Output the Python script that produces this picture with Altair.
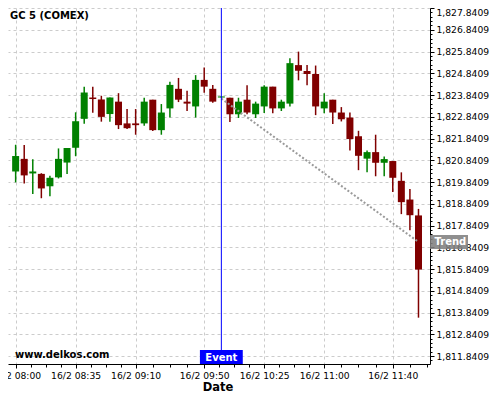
import json
import altair as alt
import pandas as pd

# ---------------- data ----------------
times = ["08:00", "08:05", "08:10", "08:15", "08:20", "08:25", "08:30", "08:35",
         "08:40", "08:45", "08:50", "08:55", "09:00", "09:05", "09:10", "09:15",
         "09:20", "09:25", "09:30", "09:35", "09:40", "09:45", "09:50", "09:55",
         "10:00", "10:05", "10:10", "10:15", "10:20", "10:25", "10:30", "10:35",
         "10:40", "10:45", "10:50", "10:55", "11:00", "11:05", "11:10", "11:15",
         "11:20", "11:25", "11:30", "11:35", "11:40", "11:45", "11:50", "11:55"]
opens = [1820.33, 1820.91, 1820.24, 1820.22, 1819.65, 1820.06, 1820.74, 1821.42,
         1822.75, 1823.73, 1823.64, 1822.97, 1823.54, 1822.54, 1822.54, 1822.54,
         1823.63, 1822.23, 1823.23, 1824.13, 1823.54, 1823.32, 1824.54, 1824.13,
         1823.73, 1823.72, 1822.96, 1823.63, 1822.96, 1823.32, 1824.23, 1823.23,
         1823.45, 1825.22, 1824.95, 1824.81, 1823.23, 1823.63, 1823.04, 1822.81,
         1821.95, 1820.92, 1821.22, 1820.73, 1820.81, 1819.90, 1819.04, 1818.31]
highs = [1821.56, 1821.55, 1820.89, 1820.25, 1820.13, 1821.39, 1821.41, 1823.05,
         1824.22, 1824.22, 1823.81, 1823.73, 1823.93, 1823.20, 1823.20, 1823.72,
         1823.63, 1823.43, 1824.45, 1824.63, 1824.04, 1824.76, 1825.11, 1824.31,
         1823.78, 1823.72, 1823.72, 1824.29, 1823.54, 1824.29, 1824.23, 1823.63,
         1825.54, 1825.84, 1825.22, 1825.20, 1823.93, 1823.63, 1823.29, 1823.04,
         1822.20, 1821.29, 1822.02, 1821.02, 1820.81, 1820.29, 1819.52, 1818.61]
lows = [1819.83, 1819.78, 1819.30, 1819.10, 1819.19, 1820.01, 1820.21, 1821.03,
        1822.52, 1823.03, 1822.62, 1822.62, 1822.28, 1822.28, 1822.02, 1822.43,
        1822.19, 1822.02, 1822.81, 1823.52, 1823.11, 1822.81, 1823.95, 1823.49,
        1823.73, 1822.61, 1822.79, 1822.96, 1822.79, 1823.02, 1823.01, 1823.11,
        1823.32, 1824.52, 1824.29, 1822.92, 1823.01, 1822.51, 1822.63, 1821.29,
        1820.39, 1820.29, 1820.11, 1820.11, 1819.39, 1818.37, 1817.63, 1813.61]
closes = [1821.04, 1820.15, 1820.33, 1819.55, 1820.04, 1820.91, 1821.41, 1822.64,
          1823.96, 1823.66, 1822.84, 1823.73, 1822.46, 1822.32, 1822.46, 1823.54,
          1822.23, 1823.04, 1824.31, 1823.63, 1823.45, 1824.54, 1824.23, 1823.54,
          1823.78, 1822.96, 1823.54, 1823.04, 1823.45, 1824.23, 1823.23, 1823.54,
          1825.31, 1824.96, 1824.81, 1823.32, 1823.54, 1823.04, 1822.73, 1821.82,
          1821.05, 1821.22, 1820.73, 1820.90, 1820.04, 1818.92, 1818.32, 1815.82]

event_time = ["10:00"]
event_label = ["Event"]
trend_times = ["10:00", "11:55"]
trend_values = [1823.68, 1817.09]
trend_label = ["Trend"]
title_text = ["GC 5 (COMEX)"]
watermark_text = ["www.delkos.com"]
x_title = ["Date"]

y_ticks = [1811.8409, 1812.8409, 1813.8409, 1814.8409, 1815.8409, 1816.8409,
           1817.8409, 1818.8409, 1819.8409, 1820.8409, 1821.8409, 1822.8409,
           1823.8409, 1824.8409, 1825.8409, 1826.8409, 1827.8409]
x_tick_times = ["08:00", "08:35", "09:10", "09:50", "10:25", "11:00", "11:40"]
x_tick_labels = ["16/2 08:00", "16/2 08:35", "16/2 09:10", "16/2 09:50",
                 "16/2 10:25", "16/2 11:00", "16/2 11:40"]


def to_min(t):
    h, m = t.split(":")
    return int(h) * 60 + int(m)


# ---------------- layout ----------------
W, H = 422, 356
FONT = "DejaVu Sans"
x_dom = [478.46, 718.8]
y_dom = [1811.48, 1827.845]

x_major = [to_min(t) for t in x_tick_times]
x_minor = [a + (b - a) * q / 4 for a, b in zip(x_major, x_major[1:]) for q in (1, 2, 3)]
x_minor += [x_major[-1] + (x_major[-1] - x_major[-2]) * q / 4 for q in (1, 2)]
x_values = sorted(x_major + x_minor)

y_minor = [round(v + 0.2 * q, 4) for v in y_ticks[:-1] for q in (1, 2, 3, 4)]
y_minor += [round(y_ticks[0] - 0.2, 4)]
y_values = sorted(y_ticks + y_minor)

xm = json.dumps(x_major)
xl = json.dumps(x_tick_labels)
ym = json.dumps(y_ticks)
x_is_major = f"indexof({xm}, datum.value) >= 0"
y_is_major = f"indexof({ym}, datum.value) >= 0"

df = pd.DataFrame({"time": times, "open": opens, "high": highs,
                   "low": lows, "close": closes})
df["minute"] = df["time"].map(to_min)

xscale = alt.Scale(domain=x_dom, nice=False, zero=False)
yscale = alt.Scale(domain=y_dom, nice=False, zero=False)

x_axis = alt.Axis(
    values=x_values, title=None, grid=True, labelOverlap=False, labelFlush=False,
    labelExpr=f"{x_is_major} ? {xl}[indexof({xm}, datum.value)] : ''",
    gridOpacity={"condition": {"test": x_is_major, "value": 1}, "value": 0},
    tickSize={"condition": {"test": x_is_major, "value": 4}, "value": 3},
    labelPadding=3,
)
y_axis = alt.Axis(
    orient="right", values=y_values, title=None, grid=True, labelOverlap=False,
    labelFlush=True,
    labelExpr=f"{y_is_major} ? format(datum.value, ',.4f') : ''",
    gridOpacity={"condition": {"test": y_is_major, "value": 1}, "value": 0},
    tickSize={"condition": {"test": y_is_major, "value": 4}, "value": 2},
    labelPadding=2,
)


def X(field):
    return alt.X(field, scale=xscale, axis=x_axis)


def Y(field):
    return alt.Y(field, scale=yscale, axis=y_axis)


candle_color = alt.condition("datum.close >= datum.open",
                             alt.value("#008000"), alt.value("#800000"))

base = alt.Chart(df)
wicks = base.mark_rule(strokeWidth=1.5).encode(
    x=X("minute:Q"), y=Y("low:Q"), y2="high:Q", color=candle_color)
bodies = base.mark_bar(size=7).encode(
    x=X("minute:Q"), y=Y("open:Q"), y2="close:Q", color=candle_color)

ev = pd.DataFrame({"time": event_time, "label": event_label})
ev["minute"] = ev["time"].map(to_min)
ev_rule = alt.Chart(ev).mark_rule(color="#0000ff", strokeWidth=1).encode(
    x=X("minute:Q"))
ev_box = alt.Chart(ev).transform_calculate(
    x1="datum.minute - 12.5", x2="datum.minute + 12.5"
).mark_rect(color="#0000ff").encode(
    x=X("x1:Q"), x2="x2:Q",
    y=alt.value(H - 14), y2=alt.value(H))
ev_text = alt.Chart(ev).mark_text(
    color="white", font=FONT, fontSize=10, fontWeight="bold",
    align="center", baseline="alphabetic").encode(
    x=X("minute:Q"), y=alt.value(H - 3), text="label:N")

tr = pd.DataFrame({"time": trend_times, "value": trend_values})
tr["minute"] = tr["time"].map(to_min)
trend = alt.Chart(tr).mark_line(color="#9a9a9a", strokeWidth=2,
                                strokeDash=[2, 2]).encode(
    x=X("minute:Q"), y=Y("value:Q"))

tl = pd.DataFrame({"label": trend_label, "value": [trend_values[-1]]})
tl_box = alt.Chart(tl).transform_calculate(
    lo="datum.value - 0.32", hi="datum.value + 0.32"
).mark_rect(color="#808080", opacity=0.88).encode(
    x=alt.value(W), x2=alt.value(W + 38),
    y=Y("lo:Q"), y2="hi:Q")
tl_text = alt.Chart(tl).mark_text(
    color="white", font=FONT, fontSize=10, fontWeight="bold",
    align="left", baseline="middle").encode(
    x=alt.value(W + 4.5), y=Y("value:Q"), text="label:N")

title = alt.Chart(pd.DataFrame({"t": title_text})).mark_text(
    font=FONT, fontSize=10, fontWeight="bold", color="black",
    align="left", baseline="alphabetic").encode(
    x=alt.value(2), y=alt.value(11), text="t:N")
wm = alt.Chart(pd.DataFrame({"t": watermark_text})).mark_text(
    font=FONT, fontSize=10, fontWeight="bold", color="black",
    align="left", baseline="alphabetic").encode(
    x=alt.value(7), y=alt.value(H - 6.5), text="t:N")
xt = alt.Chart(pd.DataFrame({"t": x_title})).mark_text(
    font=FONT, fontSize=11.5, fontWeight="bold", color="black",
    align="center", baseline="alphabetic").encode(
    x=alt.value(210), y=alt.value(H + 26.5), text="t:N")

chart = alt.layer(
    wicks, bodies, trend, ev_rule, ev_box, ev_text, tl_box, tl_text, title, wm, xt
).properties(
    width=W, height=H,
    autosize=alt.AutoSizeParams(type="none"),
    padding={"left": 0, "top": 0, "right": 62, "bottom": 28},
).configure_view(stroke=None).configure_axis(
    labelFont=FONT, labelFontSize=9.2, labelColor="black",
    domainColor="black", domainWidth=1, tickColor="black", tickWidth=1,
    gridColor="#cccccc", gridDash=[3, 3], gridWidth=1,
)

chart.save("out.html", embed_options={"renderer": "svg", "actions": False})
